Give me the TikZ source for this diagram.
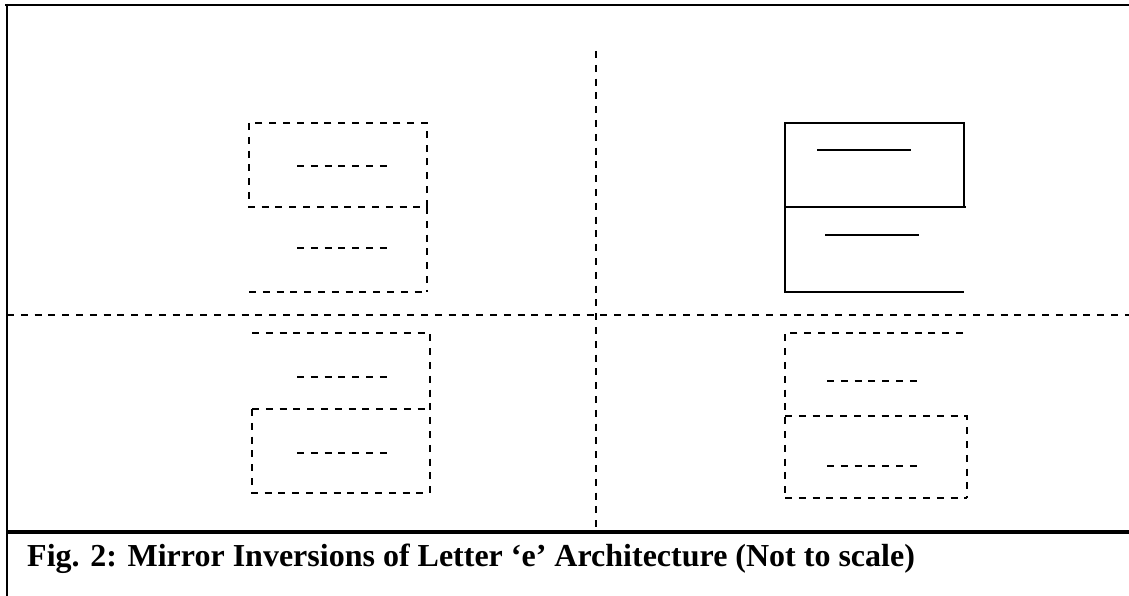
\documentclass[tikz,border=0pt]{standalone}
\usepackage{fontspec}
\setmainfont{Liberation Serif}
\begin{document}
\begin{tikzpicture}[x=1pt,y=-1pt,
  dsh/.style={line width=1.4pt,dash pattern=on 7pt off 6.8pt},
  sld/.style={line width=1.4pt},
  frame/.style={line width=2pt},
  caption/.style={font=\fontsize{32}{38}\selectfont\bfseries,anchor=base west,inner sep=0pt}]
\useasboundingbox (0,0) rectangle (1129,596);
% frame
\draw[frame] (5,5) -- (1129,5);
\draw[frame] (6.5,4) -- (6.5,596);
\draw[line width=3.5pt] (6,532) -- (1129,532);
% quadrant dividers
\draw[dsh] (7,315) -- (1129,315);
\draw[dsh] (596,51) -- (596,530);
% top-left (dashed)
\draw[dsh] (249,123) rectangle (427,207);
\draw[dsh] (427,207) -- (427,292);
\draw[dsh] (249,292) -- (427,292);
\draw[dsh] (297,166) -- (387,166);
\draw[dsh] (297,248) -- (387,248);
% top-right (solid)
\draw[sld] (785,207) -- (785,123) -- (964,123) -- (964,207);
\draw[sld] (785,207) -- (966,207);
\draw[sld] (785,207) -- (785,292) -- (964,292);
\draw[sld] (817,150) -- (911,150);
\draw[sld] (825,235) -- (919,235);
% bottom-left (dashed)
\draw[dsh] (252,333) -- (430,333) -- (430,493);
\draw[dsh] (252,409) -- (430,409);
\draw[dsh] (252,409) -- (252,493) -- (430,493);
\draw[dsh] (297,377) -- (388,377);
\draw[dsh] (297,453) -- (388,453);
% bottom-right (dashed)
\draw[dsh] (963,333) -- (785,333) -- (785,498);
\draw[dsh] (785,416) -- (967,416) -- (967,498);
\draw[dsh] (785,498) -- (967,498);
\draw[dsh] (827,381) -- (918,381);
\draw[dsh] (827,466) -- (918,466);
% caption
\node[caption] (cap) at (27,566) {Fig. 2: Mirror Inversions of Letter ‘e’ Architecture (Not to scale)};
\end{tikzpicture}
\end{document}
